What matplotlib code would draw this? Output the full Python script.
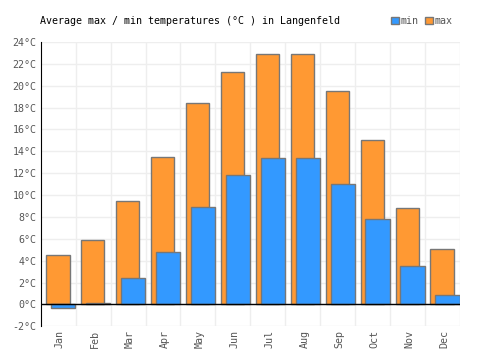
import matplotlib
matplotlib.use("Agg")
import matplotlib.pyplot as plt
import numpy as np
from matplotlib.patches import Patch

months = ["Jan", "Feb", "Mar", "Apr", "May", "Jun",
          "Jul", "Aug", "Sep", "Oct", "Nov", "Dec"]
t_max = [4.5, 5.9, 9.5, 13.5, 18.4, 21.3, 22.9, 22.9, 19.5, 15.0, 8.8, 5.1]
t_min = [-0.3, 0.1, 2.4, 4.8, 8.9, 11.8, 13.4, 13.4, 11.0, 7.8, 3.5, 0.9]
y_ticks = list(range(-2, 25, 2))

blue = "#3399ff"
orange = "#ff9933"
edge = "#777777"
font = "DejaVu Sans Mono"
fs = 7.2

fig = plt.figure(figsize=(5, 3.5), dpi=100)
ax = fig.add_axes([0.0814, 0.0677, 0.8386, 0.8123])

x = np.arange(len(months))
ax.bar(x + 0.49, t_max, width=0.67, color=orange, edgecolor=edge, linewidth=1, zorder=2)
ax.bar(x + 0.645, t_min, width=0.70, color=blue, edgecolor=edge, linewidth=1, zorder=3)

ax.set_xlim(0, 12)
ax.set_ylim(-2, 24)
ax.set_yticks(y_ticks)
ax.set_yticklabels([f"{v}°C" for v in y_ticks], family=font, fontsize=fs, color="#555555")
ax.set_xticks(x + 0.55)
ax.set_xticklabels(months, rotation=90, family=font, fontsize=fs, color="#555555")
ax.tick_params(length=0, pad=3)

for v in y_ticks:
    ax.axhline(v, color="#eeeeee", linewidth=1, zorder=0)
for i in range(1, 13):
    ax.axvline(i, color="#eeeeee", linewidth=1, zorder=0)
ax.axhline(0, color="black", linewidth=1, zorder=4)

for s in ["top", "right", "bottom"]:
    ax.spines[s].set_visible(False)
ax.spines["left"].set_color("black")
ax.spines["left"].set_zorder(5)

fig.text(0.08, 0.94, "Average max / min temperatures (°C ) in Langenfeld",
         family=font, fontsize=fs, color="black", va="center")

handles = [Patch(facecolor=blue, edgecolor=edge), Patch(facecolor=orange, edgecolor=edge)]
fig.legend(handles, ["min", "max"], loc="center right", bbox_to_anchor=(0.913, 0.94),
           ncol=2, frameon=False, handlelength=0.8, handleheight=0.8,
           handletextpad=0.2, columnspacing=0.6, borderaxespad=0,
           prop={"family": font, "size": fs}, labelcolor="#555555")

fig.savefig("out.png", dpi=100)
